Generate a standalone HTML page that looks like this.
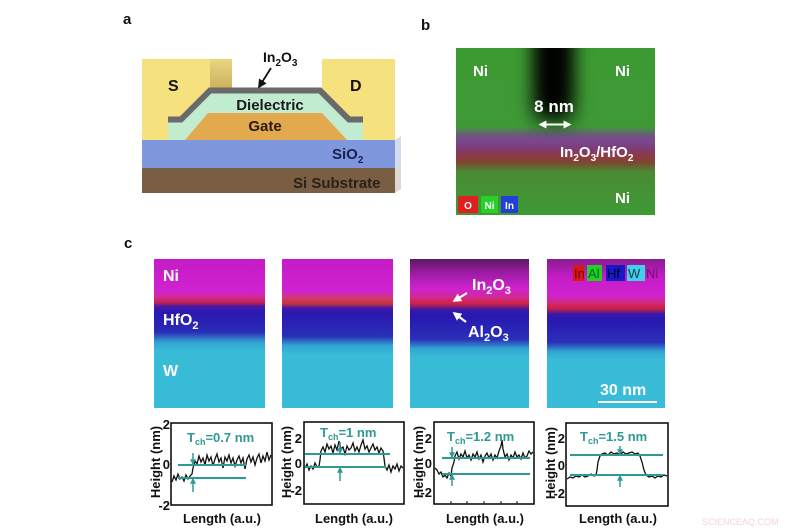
<!DOCTYPE html>
<html><head><meta charset="utf-8"><style>
html,body{margin:0;padding:0;background:#fff;}
svg{display:block;font-family:"Liberation Sans",Arial,sans-serif;font-weight:bold;}
</style></head><body>
<svg width="800" height="530" viewBox="0 0 800 530" xmlns="http://www.w3.org/2000/svg">
<defs>
<linearGradient id="gb" x1="0" y1="0" x2="0" y2="1">
<stop offset="0" stop-color="#3c9a32"/><stop offset="0.47" stop-color="#3f9a36"/>
<stop offset="0.52" stop-color="#6a5a7a"/><stop offset="0.56" stop-color="#7c4690"/>
<stop offset="0.6" stop-color="#7e3c78"/><stop offset="0.65" stop-color="#8c3a40"/>
<stop offset="0.69" stop-color="#7a4a30"/><stop offset="0.74" stop-color="#4a8a34"/>
<stop offset="1" stop-color="#3e9a34"/></linearGradient>
<linearGradient id="g1" x1="0" y1="0" x2="0" y2="1">
<stop offset="0" stop-color="#c41cc6"/><stop offset="0.22" stop-color="#d022d0"/>
<stop offset="0.26" stop-color="#d02a90"/><stop offset="0.29" stop-color="#c82050"/>
<stop offset="0.32" stop-color="#4218a8"/><stop offset="0.36" stop-color="#2a18b0"/>
<stop offset="0.49" stop-color="#2a2cb8"/><stop offset="0.56" stop-color="#32a4d2"/>
<stop offset="0.62" stop-color="#38bcd8"/><stop offset="1" stop-color="#38bcd8"/></linearGradient>
<linearGradient id="g2" x1="0" y1="0" x2="0" y2="1">
<stop offset="0" stop-color="#c41cc6"/><stop offset="0.22" stop-color="#d022d0"/>
<stop offset="0.26" stop-color="#d03a70"/><stop offset="0.3" stop-color="#c83040"/>
<stop offset="0.33" stop-color="#4018a8"/><stop offset="0.37" stop-color="#2a18b0"/>
<stop offset="0.52" stop-color="#2a30b8"/><stop offset="0.58" stop-color="#32a4d2"/>
<stop offset="0.64" stop-color="#38bcd8"/><stop offset="1" stop-color="#38bcd8"/></linearGradient>
<linearGradient id="g3" x1="0" y1="0" x2="0" y2="1">
<stop offset="0" stop-color="#5a1a62"/><stop offset="0.1" stop-color="#a01ca8"/>
<stop offset="0.2" stop-color="#d022d0"/><stop offset="0.26" stop-color="#d02a90"/>
<stop offset="0.3" stop-color="#d02040"/><stop offset="0.34" stop-color="#3a18a8"/>
<stop offset="0.38" stop-color="#2818b0"/><stop offset="0.54" stop-color="#2a30b8"/>
<stop offset="0.6" stop-color="#32a4d2"/><stop offset="0.66" stop-color="#38bcd8"/>
<stop offset="1" stop-color="#38bcd8"/></linearGradient>
<linearGradient id="g4" x1="0" y1="0" x2="0" y2="1">
<stop offset="0" stop-color="#8a1c90"/><stop offset="0.12" stop-color="#c41cc6"/>
<stop offset="0.25" stop-color="#d022d0"/><stop offset="0.29" stop-color="#d02a80"/>
<stop offset="0.33" stop-color="#d02040"/><stop offset="0.37" stop-color="#3a18a8"/>
<stop offset="0.41" stop-color="#2818b0"/><stop offset="0.56" stop-color="#2a30b8"/>
<stop offset="0.62" stop-color="#32a4d2"/><stop offset="0.68" stop-color="#38bcd8"/>
<stop offset="1" stop-color="#38bcd8"/></linearGradient>
<linearGradient id="sh" x1="0" y1="0" x2="0" y2="1">
<stop offset="0" stop-color="#e8d680"/><stop offset="1" stop-color="#c8aa58"/></linearGradient>
<filter id="blur" x="-1" y="-1" width="3" height="3"><feGaussianBlur stdDeviation="10"/></filter>
<clipPath id="cb"><rect x="456" y="48" width="199" height="167"/></clipPath>
<marker id="mk" viewBox="0 0 10 10" refX="8" refY="5" markerWidth="5" markerHeight="5" orient="auto-start-reverse"><path d="M0,0 L10,5 L0,10 z" fill="#111"/></marker>
<marker id="mw" viewBox="0 0 10 10" refX="8" refY="5" markerWidth="4" markerHeight="4" orient="auto-start-reverse"><path d="M0,0 L10,5 L0,10 z" fill="#fff"/></marker>
<marker id="mt" viewBox="0 0 10 10" refX="8" refY="5" markerWidth="4" markerHeight="4" orient="auto-start-reverse"><path d="M0,0 L10,5 L0,10 z" fill="#2e9a94"/></marker>
</defs>

<!-- Panel labels -->
<text x="123" y="24" font-size="15" fill="#111">a</text>
<text x="421" y="30" font-size="15" fill="#111">b</text>
<text x="124" y="248" font-size="15" fill="#111">c</text>

<!-- Panel a -->
<polygon points="395,168 401,164 401,189 395,193" fill="#dcd8d4"/>
<polygon points="395,140 401,136 401,164 395,168" fill="#d5dcee"/>
<rect x="142" y="168" width="253" height="25" fill="#7a5e44"/>
<rect x="142" y="140" width="253" height="28" fill="#7f97dc"/>
<rect x="142" y="59" width="68" height="81" fill="#f5e27f"/>
<rect x="210" y="59" width="22" height="34" fill="url(#sh)"/>
<rect x="322" y="59" width="73" height="81" fill="#f5e27f"/>
<polygon points="168,122 181,122 211,93 319,93 349,122 363,122 363,140 168,140" fill="#c2ecd0"/>
<polygon points="185,140 208,113 322,113 347,140" fill="#e2a94e"/>
<polyline points="168,119.5 181,119.5 210,90.5 320,90.5 349,119.5 363,119.5" fill="none" stroke="#6a6a6a" stroke-width="6" stroke-linejoin="miter"/>
<text x="168" y="91" font-size="16" fill="#111">S</text>
<text x="350" y="91" font-size="16" fill="#111">D</text>
<text x="263" y="62" font-size="14" fill="#111">In<tspan font-size="10" dy="4">2</tspan><tspan dy="-4">O</tspan><tspan font-size="10" dy="4">3</tspan></text>
<line x1="271" y1="68" x2="259" y2="87" stroke="#111" stroke-width="1.8" marker-end="url(#mk)"/>
<text x="270" y="110" font-size="15" fill="#1a1a1a" text-anchor="middle">Dielectric</text>
<text x="265" y="131" font-size="15" fill="#2a1a10" text-anchor="middle">Gate</text>
<text x="332" y="159" font-size="15" fill="#1a2050">SiO<tspan font-size="10" dy="4">2</tspan></text>
<text x="293" y="188" font-size="15" fill="#2a2018">Si Substrate</text>

<!-- Panel b -->
<rect x="456" y="48" width="199" height="167" fill="url(#gb)"/>
<g clip-path="url(#cb)"><rect x="535" y="10" width="37" height="110" fill="#000" filter="url(#blur)"/><rect x="543" y="20" width="21" height="85" fill="#000" filter="url(#blur)"/></g>
<text x="473" y="76" font-size="15" fill="#fff">Ni</text>
<text x="615" y="76" font-size="15" fill="#fff">Ni</text>
<text x="554" y="112" font-size="17" fill="#fff" text-anchor="middle">8 nm</text>
<line x1="540" y1="124.5" x2="570" y2="124.5" stroke="#fff" stroke-width="2" marker-start="url(#mw)" marker-end="url(#mw)"/>
<text x="560" y="157" font-size="15" fill="#fff">In<tspan font-size="10" dy="4">2</tspan><tspan dy="-4">O</tspan><tspan font-size="10" dy="4">3</tspan><tspan dy="-4">/HfO</tspan><tspan font-size="10" dy="4">2</tspan></text>
<text x="615" y="203" font-size="15" fill="#fff">Ni</text>
<rect x="458" y="196" width="20" height="17" fill="#e02020"/>
<rect x="481" y="196" width="17" height="17" fill="#28d028"/>
<rect x="501" y="196" width="17" height="17" fill="#2040d8"/>
<text x="468" y="209" font-size="10" fill="#fff" text-anchor="middle">O</text>
<text x="489.5" y="209" font-size="10" fill="#fff" text-anchor="middle">Ni</text>
<text x="509.5" y="209" font-size="10" fill="#fff" text-anchor="middle">In</text>

<!-- Panel c images -->
<rect x="154" y="259" width="111" height="149" fill="url(#g1)"/>
<rect x="282" y="259" width="111" height="149" fill="url(#g2)"/>
<rect x="410" y="259" width="119" height="149" fill="url(#g3)"/>
<rect x="547" y="259" width="118" height="149" fill="url(#g4)"/>
<text x="163" y="281" font-size="16" fill="#fff">Ni</text>
<text x="163" y="325" font-size="16" fill="#fff">HfO<tspan font-size="11" dy="4">2</tspan></text>
<text x="163" y="376" font-size="16" fill="#fff">W</text>
<text x="472" y="290" font-size="16" fill="#fff">In<tspan font-size="11" dy="4">2</tspan><tspan dy="-4">O</tspan><tspan font-size="11" dy="4">3</tspan></text>
<text x="468" y="337" font-size="16" fill="#fff">Al<tspan font-size="11" dy="4">2</tspan><tspan dy="-4">O</tspan><tspan font-size="11" dy="4">3</tspan></text>
<line x1="467" y1="293" x2="454" y2="301" stroke="#fff" stroke-width="2.2" marker-end="url(#mw)"/>
<line x1="466" y1="322" x2="454" y2="313" stroke="#fff" stroke-width="2.2" marker-end="url(#mw)"/>
<rect x="573" y="265" width="11" height="16" fill="#d81818"/>
<rect x="587" y="265" width="15" height="16" fill="#22d022"/>
<rect x="606" y="265" width="19" height="16" fill="#1818c8"/>
<rect x="627" y="265" width="18" height="16" fill="#40d0e8"/>
<text x="574" y="278" font-size="13" font-weight="normal" fill="#700">In</text>
<text x="588" y="278" font-size="13" font-weight="normal" fill="#063">Al</text>
<text x="607" y="278" font-size="13" font-weight="normal" fill="#003">Hf</text>
<text x="628" y="278" font-size="13" font-weight="normal" fill="#0a3a48">W</text>
<text x="646" y="278" font-size="13" font-weight="normal" fill="#701070">Ni</text>
<text x="600" y="395" font-size="16" fill="#fff">30 nm</text>
<line x1="598" y1="402" x2="657" y2="402" stroke="#fff" stroke-width="2"/>

<!-- Plot 1 -->
<rect x="171" y="423" width="101" height="82" fill="#fff" stroke="#111" stroke-width="1.6"/>
<g font-size="13" fill="#111" text-anchor="end">
<text x="170" y="429">2</text><text x="170" y="469">0</text><text x="170" y="510">-2</text>
</g>
<text transform="translate(160,462) rotate(-90)" font-size="13" fill="#111" text-anchor="middle">Height (nm)</text>
<text x="222" y="523" font-size="13" fill="#111" text-anchor="middle">Length (a.u.)</text>
<path d="M172,482 L174,476 L176,480 L178,474 L180,479 L182,477 L184,481 L186,475 L188,479 L190,476 L192,474 L193,468 L195,461 L197,464 L199,456 L201,462 L203,458 L205,465 L207,455 L209,461 L211,457 L213,466 L215,459 L217,454 L219,462 L221,458 L223,468 L225,457 L227,461 L229,455 L231,463 L233,458 L235,466 L237,460 L239,456 L241,463 L243,458 L245,469 L247,459 L249,455 L251,462 L253,457 L255,465 L257,458 L259,454 L261,463 L263,456 L265,461 L267,452 L269,460 L271,455" fill="none" stroke="#111" stroke-width="1.3"/>
<line x1="178" y1="465" x2="246" y2="465" stroke="#2e9a94" stroke-width="2"/>
<line x1="178" y1="478" x2="246" y2="478" stroke="#2e9a94" stroke-width="2"/>
<line x1="193" y1="453" x2="193" y2="464" stroke="#2e9a94" stroke-width="1.5" marker-end="url(#mt)"/>
<line x1="193" y1="492" x2="193" y2="479" stroke="#2e9a94" stroke-width="1.5" marker-end="url(#mt)"/>
<text x="187" y="442" font-size="13" fill="#2e9a94">T<tspan font-size="9" dy="3">ch</tspan><tspan dy="-3">=0.7 nm</tspan></text>

<!-- Plot 2 -->
<rect x="304" y="422" width="100" height="82" fill="#fff" stroke="#111" stroke-width="1.6"/>
<g font-size="13" fill="#111" text-anchor="end">
<text x="302" y="443">2</text><text x="302" y="468">0</text><text x="302" y="495">-2</text>
</g>
<text transform="translate(291,462) rotate(-90)" font-size="13" fill="#111" text-anchor="middle">Height (nm)</text>
<text x="354" y="523" font-size="13" fill="#111" text-anchor="middle">Length (a.u.)</text>
<path d="M305,468 L307,464 L309,470 L311,466 L313,469 L315,463 L317,467 L319,466 L320,460 L321,451 L323,447 L325,452 L327,444 L329,449 L331,446 L333,453 L335,445 L337,450 L339,441 L341,449 L343,447 L345,454 L347,446 L349,450 L351,448 L353,443 L355,451 L357,447 L359,452 L361,445 L363,440 L365,449 L367,446 L369,452 L371,448 L373,444 L375,450 L377,447 L379,453 L381,448 L383,451 L384,458 L385,466 L387,470 L389,465 L391,472 L393,466 L395,469 L397,464 L399,471 L401,466 L403,468" fill="none" stroke="#111" stroke-width="1.3"/>
<line x1="305" y1="454" x2="390" y2="454" stroke="#2e9a94" stroke-width="2"/>
<line x1="305" y1="467" x2="386" y2="467" stroke="#2e9a94" stroke-width="2"/>
<line x1="340" y1="442" x2="340" y2="453" stroke="#2e9a94" stroke-width="1.5" marker-end="url(#mt)"/>
<line x1="340" y1="481" x2="340" y2="468" stroke="#2e9a94" stroke-width="1.5" marker-end="url(#mt)"/>
<text x="320" y="437" font-size="13" fill="#2e9a94">T<tspan font-size="9" dy="3">ch</tspan><tspan dy="-3">=1 nm</tspan></text>

<!-- Plot 3 -->
<rect x="434" y="422" width="100" height="82" fill="#fff" stroke="#111" stroke-width="1.6"/>
<g font-size="13" fill="#111" text-anchor="end">
<text x="432" y="443">2</text><text x="432" y="468">0</text><text x="432" y="497">-2</text>
</g>
<text transform="translate(423,462) rotate(-90)" font-size="13" fill="#111" text-anchor="middle">Height (nm)</text>
<text x="485" y="523" font-size="13" fill="#111" text-anchor="middle">Length (a.u.)</text>
<g stroke="#111" stroke-width="1"><line x1="451" y1="504" x2="451" y2="501"/><line x1="467" y1="504" x2="467" y2="501"/><line x1="484" y1="504" x2="484" y2="501"/><line x1="501" y1="504" x2="501" y2="501"/><line x1="517" y1="504" x2="517" y2="501"/></g>
<path d="M435,468 L437,470 L439,474 L441,472 L443,477 L445,475 L447,478 L449,473 L451,476 L452,468 L454,462 L455,456 L457,452 L459,459 L461,454 L463,457 L465,451 L467,458 L469,455 L471,460 L473,454 L475,457 L477,452 L479,459 L481,455 L483,462 L485,456 L487,453 L489,458 L491,454 L493,460 L495,455 L497,458 L499,451 L501,446 L502,440 L503,449 L505,457 L507,454 L509,460 L511,455 L513,458 L515,452 L517,457 L519,455 L521,459 L523,453 L525,458 L527,456 L529,451 L531,454 L533,452" fill="none" stroke="#111" stroke-width="1.3"/>
<line x1="442" y1="458" x2="530" y2="458" stroke="#2e9a94" stroke-width="2"/>
<line x1="442" y1="474" x2="530" y2="474" stroke="#2e9a94" stroke-width="2"/>
<line x1="452" y1="447" x2="452" y2="457" stroke="#2e9a94" stroke-width="1.5" marker-end="url(#mt)"/>
<line x1="452" y1="486" x2="452" y2="475" stroke="#2e9a94" stroke-width="1.5" marker-end="url(#mt)"/>
<text x="447" y="441" font-size="13" fill="#2e9a94">T<tspan font-size="9" dy="3">ch</tspan><tspan dy="-3">=1.2 nm</tspan></text>

<!-- Plot 4 -->
<rect x="566" y="423" width="102" height="83" fill="#fff" stroke="#111" stroke-width="1.6"/>
<g font-size="13" fill="#111" text-anchor="end">
<text x="565" y="443">2</text><text x="565" y="470">0</text><text x="565" y="498">-2</text>
</g>
<text transform="translate(555,463) rotate(-90)" font-size="13" fill="#111" text-anchor="middle">Height (nm)</text>
<text x="618" y="523" font-size="13" fill="#111" text-anchor="middle">Length (a.u.)</text>
<path d="M567,479 L570,477 L573,478 L576,476 L579,477 L582,475 L585,477 L588,476 L591,474 L594,476 L596,475 L597,470 L598,462 L600,456 L602,454 L605,453 L608,455 L611,452 L614,454 L617,453 L620,455 L623,452 L626,454 L629,453 L632,452 L635,454 L638,453 L640,456 L642,462 L644,470 L646,475 L649,477 L652,476 L655,478 L658,476 L661,477 L664,475 L667,476" fill="none" stroke="#111" stroke-width="1.3"/>
<line x1="570" y1="455" x2="663" y2="455" stroke="#2e9a94" stroke-width="2"/>
<line x1="570" y1="475" x2="663" y2="475" stroke="#2e9a94" stroke-width="2"/>
<line x1="620" y1="446" x2="620" y2="454" stroke="#2e9a94" stroke-width="1.5" marker-end="url(#mt)"/>
<line x1="620" y1="487" x2="620" y2="476" stroke="#2e9a94" stroke-width="1.5" marker-end="url(#mt)"/>
<text x="580" y="441" font-size="13" fill="#2e9a94">T<tspan font-size="9" dy="3">ch</tspan><tspan dy="-3">=1.5 nm</tspan></text>

<text x="702" y="525" font-size="9" font-weight="normal" fill="#f2d4dc">SCIENCEAQ.COM</text>
</svg>
</body></html>
